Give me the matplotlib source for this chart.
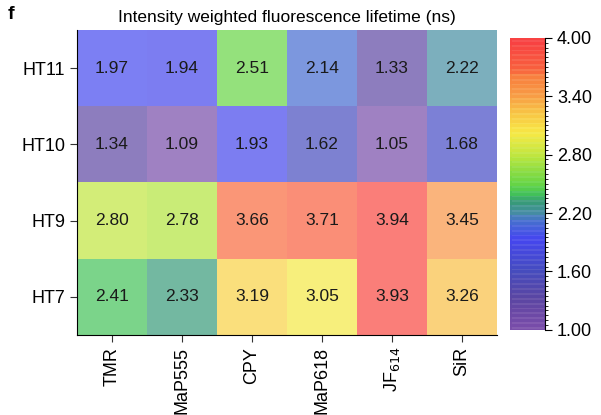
import matplotlib.pyplot as plt
import numpy as np
from matplotlib.colors import LinearSegmentedColormap, BoundaryNorm

plt.rcParams["font.family"] = ["Liberation Sans", "DejaVu Sans"]

dyes = ["TMR", "MaP555", "CPY", "MaP618", "JF$_{614}$", "SiR"]
tags = ["HT11", "HT10", "HT9", "HT7"]

ht11 = [1.97, 1.94, 2.51, 2.14, 1.33, 2.22]
ht10 = [1.34, 1.09, 1.93, 1.62, 1.05, 1.68]
ht9 = [2.80, 2.78, 3.66, 3.71, 3.94, 3.45]
ht7 = [2.41, 2.33, 3.19, 3.05, 3.93, 3.26]

cbar_ticks = [1.00, 1.60, 2.20, 2.80, 3.40, 4.00]

# rainbow-like palette (lifetime value -> RGB)
stop_vals = [1.00, 1.05, 1.33, 1.62, 1.95, 2.14, 2.22, 2.33, 2.41, 2.51,
             2.80, 3.05, 3.26, 3.45, 3.66, 3.71, 4.00]
stop_rgb = [(122, 78, 170), (119, 76, 169), (91, 69, 162), (69, 76, 191),
            (69, 69, 241), (69, 112, 205), (69, 141, 162), (55, 155, 119),
            (62, 191, 91), (98, 212, 69), (185, 230, 62), (248, 233, 69),
            (248, 198, 69), (248, 155, 69), (248, 126, 62), (248, 98, 62),
            (248, 66, 66)]
anchors = [((v - 1.0) / 3.0, tuple(c / 255 for c in rgb))
           for v, rgb in zip(stop_vals, stop_rgb)]
cmap = LinearSegmentedColormap.from_list("lifetime", anchors, N=60)
levels = np.linspace(1.0, 4.0, 61)
norm = BoundaryNorm(levels, cmap.N)

data = np.array([ht11, ht10, ht9, ht7])

fig = plt.figure(figsize=(6.01, 4.15), dpi=100)
ax = fig.add_axes([0.128, 0.193, 0.699, 0.735])
cax = fig.add_axes([0.849, 0.205, 0.058, 0.704])

ax.pcolormesh(data[::-1], cmap=cmap, norm=norm, alpha=0.7, edgecolors="none")
for i, row in enumerate(data[::-1]):
    for j, v in enumerate(row):
        ax.text(j + 0.5, i + 0.5, f"{v:.2f}", ha="center", va="center",
                fontsize=12.5, color="#1a1a1a")

ax.set_xticks(np.arange(len(dyes)) + 0.5)
ax.set_xticklabels(dyes, rotation=90, fontsize=13)
ax.set_yticks(np.arange(len(tags)) + 0.5)
ax.set_yticklabels(tags[::-1], fontsize=13)
ax.set_xlim(0, len(dyes))
ax.set_ylim(0, len(tags))
for side in ["top", "right"]:
    ax.spines[side].set_visible(False)
ax.tick_params(length=5, color="#333333")
ax.set_title("Intensity weighted fluorescence lifetime (ns)", fontsize=12.5, pad=6)

sm = plt.cm.ScalarMappable(cmap=cmap, norm=norm)
cb = fig.colorbar(sm, cax=cax, ticks=cbar_ticks, alpha=0.92)
cb.ax.set_yticklabels([f"{t:.2f}" for t in cbar_ticks], fontsize=13)
cb.outline.set_visible(False)
cb.ax.spines["right"].set_visible(True)
cb.ax.tick_params(length=5)
cb.solids.set_edgecolor("face")

fig.text(0.013, 0.985, "f", fontsize=14, fontweight="bold", va="top")

fig.savefig("out.png", dpi=100)
